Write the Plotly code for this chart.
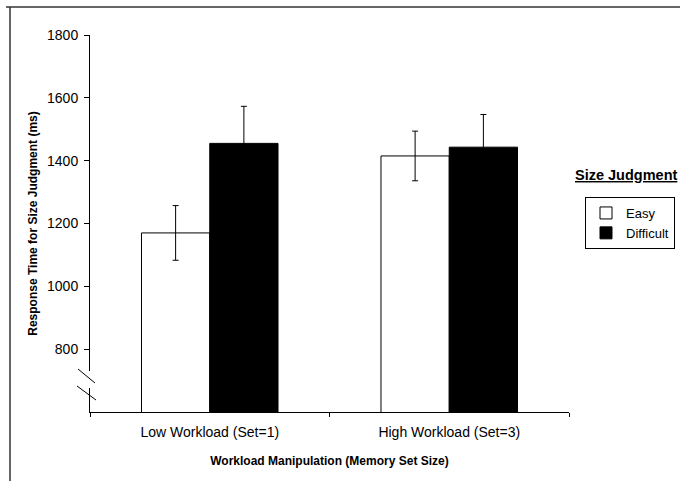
import plotly.graph_objects as go

categories = ["Low Workload (Set=1)", "High Workload (Set=3)"]
easy_rt = [1170, 1415]
easy_err = [87, 79]
difficult_rt = [1455, 1443]
difficult_err = [118, 104]
y_ticks = [800, 1000, 1200, 1400, 1600, 1800]

FONT = "Arial, Liberation Sans, Helvetica, sans-serif"

fig = go.Figure()
fig.add_trace(go.Bar(
    name="Easy", x=categories, y=easy_rt,
    marker=dict(color="white", line=dict(color="black", width=1)),
    error_y=dict(type="data", array=easy_err, color="black", thickness=1, width=3),
))
fig.add_trace(go.Bar(
    name="Difficult", x=categories, y=difficult_rt,
    marker=dict(color="black", line=dict(color="black", width=1)),
    error_y=dict(type="data", array=difficult_err, color="black", thickness=1, width=3),
))

W, H = 680, 481
PL, PR, PT, PB = 90, 569, 35, 412

def px(x):  # screen x -> paper x
    return (x - PL) / (PR - PL)

def py(y):  # screen y -> paper y
    return (PB - y) / (PB - PT)

fig.update_layout(
    width=W, height=H,
    margin=dict(l=PL, r=W - PR, t=PT, b=H - PB, autoexpand=False),
    paper_bgcolor="white", plot_bgcolor="white",
    barmode="group", bargap=0.43, bargroupgap=0,
    font=dict(family=FONT, size=12, color="black"),
    showlegend=True,
    legend=dict(
        x=px(585), y=py(197), xanchor="left", yanchor="top",
        bordercolor="black", borderwidth=1, bgcolor="white",
        font=dict(size=13), itemwidth=30, tracegroupgap=0,
        traceorder="normal",
    ),
    xaxis=dict(
        automargin=False,
        showline=True, linecolor="black", linewidth=1,
        ticks="outside", ticklen=4, tickcolor="black", tickson="boundaries",
        showgrid=False, tickfont=dict(size=14), ticklabelstandoff=7,
        title=dict(text="<b>Workload Manipulation (Memory Set Size)</b>",
                   font=dict(size=12), standoff=17),
    ),
    yaxis=dict(
        automargin=False,
        range=[600, 1800], tickvals=y_ticks,
        showline=True, linecolor="black", linewidth=1,
        ticks="outside", ticklen=5, tickcolor="black",
        showgrid=False, zeroline=False, tickfont=dict(size=14), ticklabelstandoff=3,
        title=dict(text="<b>Response Time for Size Judgment (ms)</b>",
                   font=dict(size=12), standoff=6),
    ),
    annotations=[dict(
        text="<b><u>Size Judgment</u></b>", x=px(573), y=py(175),
        xref="paper", yref="paper", xanchor="left", yanchor="middle",
        showarrow=False, font=dict(size=14.5),
    )],
    shapes=[
        # axis break gap
        dict(type="rect", xref="paper", yref="paper",
             x0=px(88), x1=px(92), y0=py(388), y1=py(371),
             fillcolor="white", line=dict(width=0), layer="above"),
        dict(type="line", xref="paper", yref="paper",
             x0=px(78), y0=py(369), x1=px(95), y1=py(383),
             line=dict(color="black", width=1)),
        dict(type="line", xref="paper", yref="paper",
             x0=px(77), y0=py(386), x1=px(96), y1=py(400),
             line=dict(color="black", width=1)),
        # outer frame
        dict(type="line", xref="paper", yref="paper",
             x0=px(10), y0=py(7), x1=px(10), y1=py(490),
             line=dict(color="#333", width=1.5)),
        dict(type="line", xref="paper", yref="paper",
             x0=px(6), y0=py(7), x1=px(690), y1=py(7),
             line=dict(color="#333", width=1.5)),
    ],
)

fig.write_html(
    "out.html",
    config={"displayModeBar": False},
    post_script="document.body.style.margin='0';document.body.style.overflow='hidden';",
)
